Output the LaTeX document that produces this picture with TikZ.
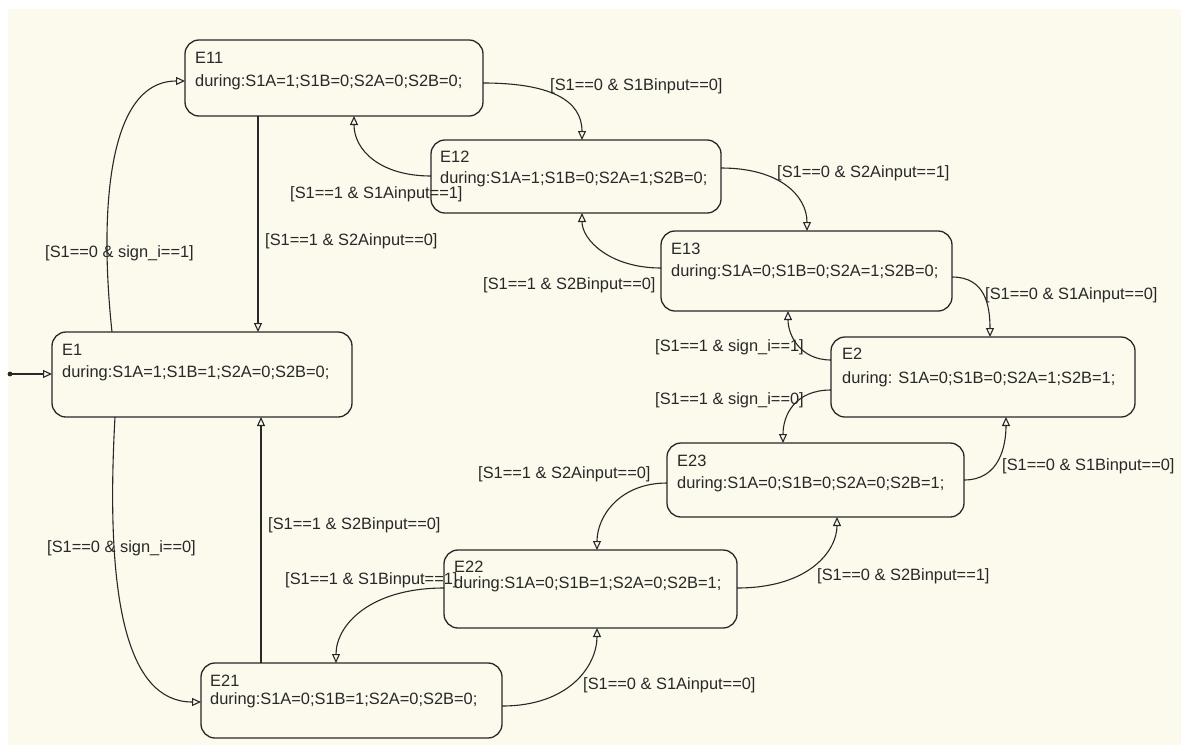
\documentclass[tikz,border=0pt]{standalone}
\usepackage{fontspec}
\setmainfont{Liberation Sans}
\usetikzlibrary{arrows.meta,calc}
\definecolor{bgcream}{RGB}{252,249,237}
\definecolor{ink}{RGB}{40,40,40}
\begin{document}
\begin{tikzpicture}[x=1pt,y=-1pt,
  font=\fontsize{16.4}{19}\selectfont,
  state/.style 2 args={draw=ink,line width=1.3pt,rounded corners=14pt,anchor=north west,
    inner sep=0pt,outer sep=0pt,minimum width=#1 pt,minimum height=#2 pt},
  txt/.style={anchor=base west,inner sep=0pt,text=ink},
  trans/.style={draw=ink,line width=1.1pt,-{Triangle[open,length=9pt,width=8pt]}}]
\useasboundingbox (0,0) rectangle (1181,745);
\fill[white] (0,0) rectangle (1181,745);
\fill[bgcream] (8,9) rectangle (1181,745);

% states
\node[state={298}{76}] (E11) at (185,40) {};
\node[state={290}{73}] (E12) at (431,140) {};
\node[state={291}{80}] (E13) at (661,231) {};
\node[state={304}{80}] (E2)  at (831,337) {};
\node[state={297}{74}] (E23) at (667,443) {};
\node[state={293}{78}] (E22) at (444,550) {};
\node[state={301}{75}] (E21) at (201,663) {};
\node[state={300}{85}] (E1)  at (52,332) {};

% state texts
\node[txt] (E11n) at ($(E11.north west)+(10,23)$) {E11};
\node[txt] (E11d) at ($(E11.north west)+(10,46)$) {during:S1A=1;S1B=0;S2A=0;S2B=0;};
\node[txt] (E12n) at ($(E12.north west)+(9,22)$) {E12};
\node[txt] (E12d) at ($(E12.north west)+(9,43)$) {during:S1A=1;S1B=0;S2A=1;S2B=0;};
\node[txt] (E13n) at ($(E13.north west)+(10,23)$) {E13};
\node[txt] (E13d) at ($(E13.north west)+(10,45)$) {during:S1A=0;S1B=0;S2A=1;S2B=0;};
\node[txt] (E2n) at ($(E2.north west)+(11,22)$) {E2};
\node[txt] (E2d) at ($(E2.north west)+(11,46)$) {during: S1A=0;S1B=0;S2A=1;S2B=1;};
\node[txt] (E23n) at ($(E23.north west)+(10,23)$) {E23};
\node[txt] (E23d) at ($(E23.north west)+(10,45)$) {during:S1A=0;S1B=0;S2A=0;S2B=1;};
\node[txt] (E22n) at ($(E22.north west)+(10,22)$) {E22};
\node[txt] (E22d) at ($(E22.north west)+(10,38)$) {during:S1A=0;S1B=1;S2A=0;S2B=1;};
\node[txt] (E21n) at ($(E21.north west)+(9,23)$) {E21};
\node[txt] (E21d) at ($(E21.north west)+(9,41)$) {during:S1A=0;S1B=1;S2A=0;S2B=0;};
\node[txt] (E1n) at ($(E1.north west)+(10,23)$) {E1};
\node[txt] (E1d) at ($(E1.north west)+(10,45)$) {during:S1A=1;S1B=1;S2A=0;S2B=0;};

% default transition
\coordinate (init) at (10,374);
\fill[ink] (init) circle (2.4pt);
\draw[trans] (init) -- ($(E1.north west)+(0,42)$);

% transitions
\draw[trans] ($(E11.north west)+(298,43)$) .. controls +(67,0) and +(0,-40) .. ($(E12.north west)+(151,0)$);
\draw[trans] ($(E12.north west)+(0,36)$) .. controls +(-51,0) and +(0,34) .. ($(E11.north west)+(169,76)$);
\draw[trans] ($(E12.north west)+(290,28)$) .. controls +(59,0) and +(0,-35) .. ($(E13.north west)+(146,0)$);
\draw[trans] ($(E13.north west)+(0,37)$) .. controls +(-51,0) and +(0,27) .. ($(E12.north west)+(151,73)$);
\draw[trans] ($(E13.north west)+(291,46)$) .. controls +(33,0) and +(0,-32) .. ($(E2.north west)+(159,0)$);
\draw[trans] ($(E2.north west)+(0,23)$) .. controls +(-31,0) and +(0,24) .. ($(E13.north west)+(127,80)$);
\draw[trans] ($(E2.north west)+(0,53)$) .. controls +(-36,0) and +(0,-28) .. ($(E23.north west)+(116,0)$);
\draw[trans] ($(E23.north west)+(297,37)$) .. controls +(36,0) and +(0,28) .. ($(E2.north west)+(175,80)$);
\draw[trans] ($(E23.north west)+(0,40)$) .. controls +(-47,0) and +(0,-34) .. ($(E22.north west)+(153,0)$);
\draw[trans] ($(E22.north west)+(293,38)$) .. controls +(73,0) and +(0,33) .. ($(E23.north west)+(170,74)$);
\draw[trans] ($(E22.north west)+(0,38)$) .. controls +(-74,0) and +(0,-38) .. ($(E21.north west)+(135,0)$);
\draw[trans] ($(E21.north west)+(301,43)$) .. controls +(68,0) and +(0,37) .. ($(E22.north west)+(153,78)$);
\draw[trans] ($(E11.north west)+(73,76)$) -- ($(E1.north west)+(206,0)$);
\draw[trans] ($(E21.north west)+(60,0)$) -- ($(E1.north west)+(209,85)$);
\draw[trans] ($(E1.north west)+(60,0)$) .. controls +(-12,-112) and +(-80,0) .. ($(E11.north west)+(0,41)$);
\draw[trans] ($(E1.north west)+(63,85)$) .. controls +(-10,180) and +(-75,0) .. ($(E21.north west)+(0,39)$);

% transition labels
\node[txt] (l1)  at (550,90)  {[S1==0 \& S1Binput==0]};
\node[txt] (l2)  at (290,198) {[S1==1 \& S1Ainput==1]};
\node[txt] (l3)  at (777,177) {[S1==0 \& S2Ainput==1]};
\node[txt] (l4)  at (265,245) {[S1==1 \& S2Ainput==0]};
\node[txt] (l5)  at (45,257)  {[S1==0 \& sign\_i==1]};
\node[txt] (l6)  at (483,289) {[S1==1 \& S2Binput==0]};
\node[txt] (l7)  at (985,299) {[S1==0 \& S1Ainput==0]};
\node[txt] (l8)  at (655,351) {[S1==1 \& sign\_i==1]};
\node[txt] (l9)  at (655,404) {[S1==1 \& sign\_i==0]};
\node[txt] (l10) at (478,478) {[S1==1 \& S2Ainput==0]};
\node[txt] (l11) at (1002,470) {[S1==0 \& S1Binput==0]};
\node[txt] (l12) at (268,529) {[S1==1 \& S2Binput==0]};
\node[txt] (l13) at (47,552)  {[S1==0 \& sign\_i==0]};
\node[txt] (l14) at (285,584) {[S1==1 \& S1Binput==1]};
\node[txt] (l15) at (817,580) {[S1==0 \& S2Binput==1]};
\node[txt] (l16) at (583,689) {[S1==0 \& S1Ainput==0]};
\end{tikzpicture}
\end{document}
